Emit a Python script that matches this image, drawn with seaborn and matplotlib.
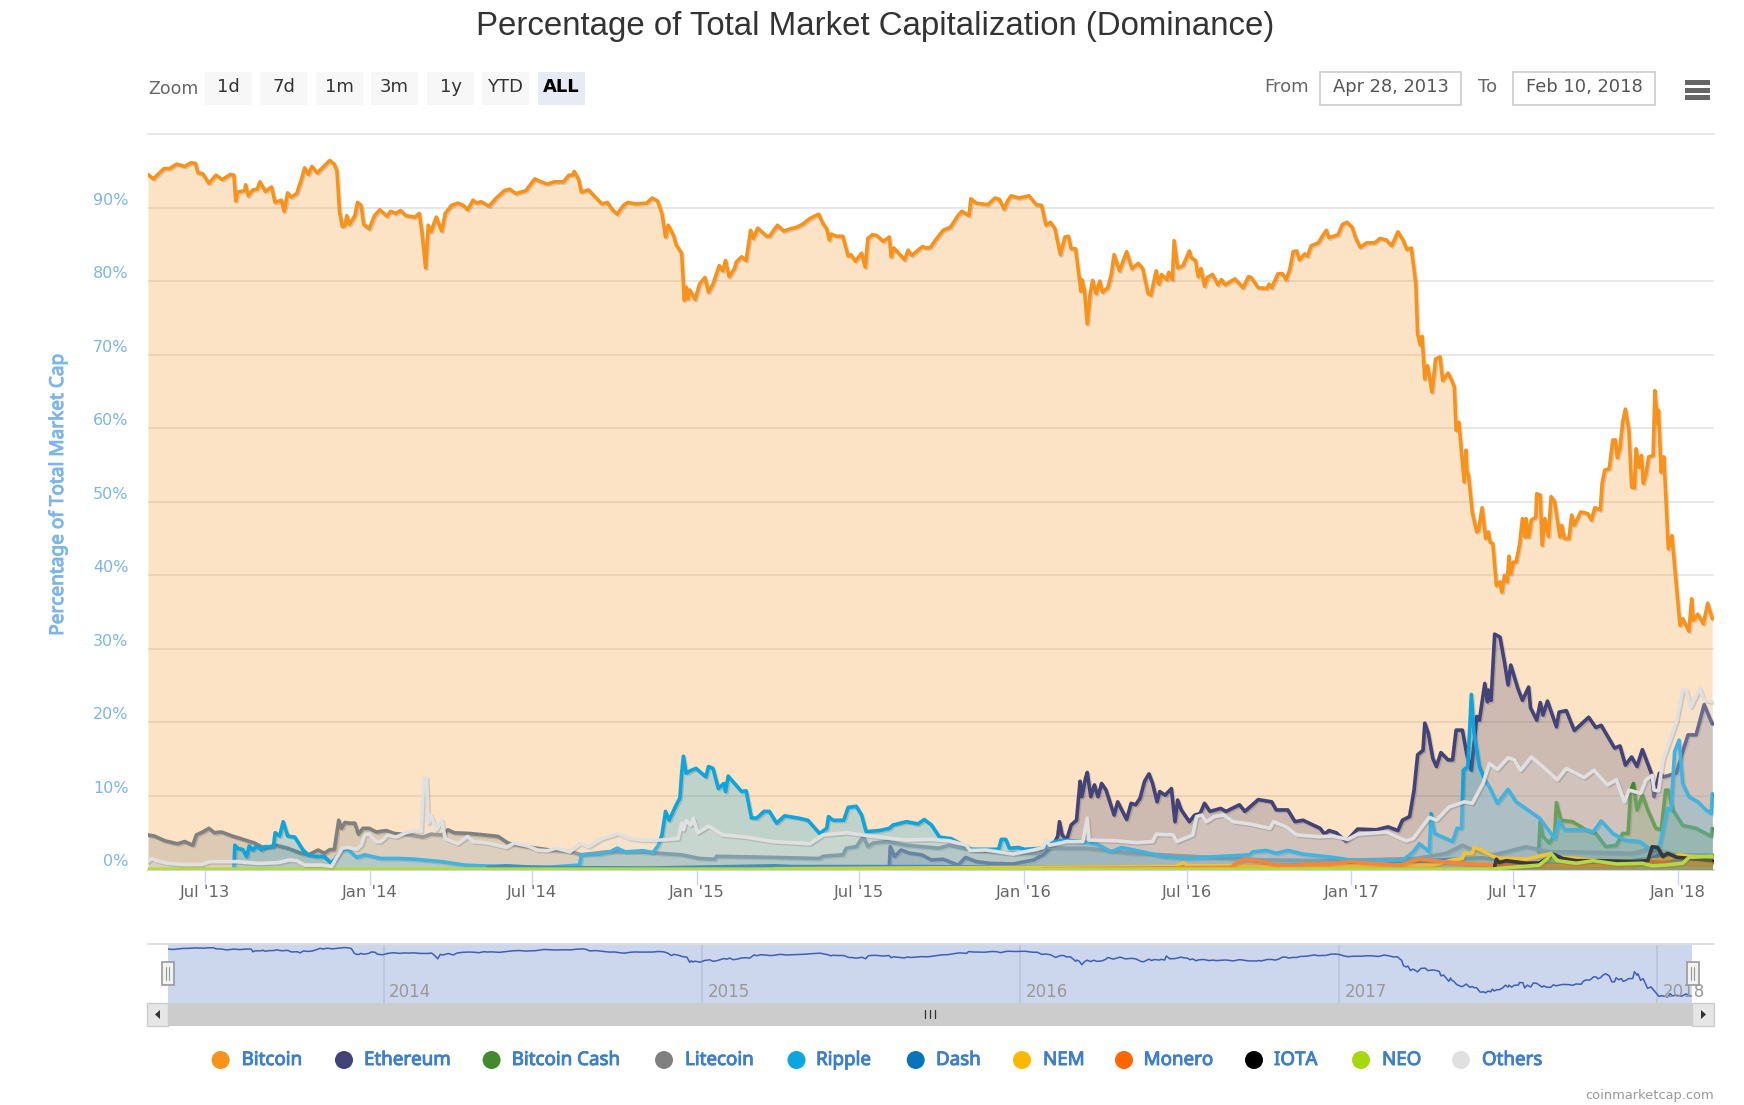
import pandas as pd
import seaborn as sns
import matplotlib
matplotlib.use('Agg')
import matplotlib.pyplot as plt
import matplotlib.patheffects as pe
from matplotlib.patches import Rectangle, Circle, Polygon

# all series: x = days after 2013-04-28, y = percent
btc_days = [0, 6, 11, 18, 24, 32, 41, 48, 53, 56, 61, 68, 76, 83, 92, 96, 98, 100, 108, 109, 112, 117, 122, 125, 131, 138, 142, 149, 152, 156,
            160, 166, 171, 175, 179, 183, 189, 194, 203, 208, 211, 214, 217, 220, 222, 225, 231, 234, 238, 241, 247, 253, 259, 267, 271, 277, 282, 288, 298, 303,
            306, 310, 313, 316, 322, 328, 332, 339, 346, 352, 357, 363, 367, 372, 381, 389, 398, 404, 411, 422, 432, 437, 446, 454, 464, 470, 474, 476, 481, 484,
            492, 499, 507, 513, 518, 524, 531, 536, 544, 557, 563, 569, 574, 578, 581, 587, 590, 596, 599, 601, 603, 605, 611, 616, 622, 626, 631, 638, 642, 645,
            649, 655, 657, 663, 668, 673, 676, 681, 691, 694, 703, 710, 717, 724, 732, 739, 749, 754, 758, 761, 763, 769, 776, 782, 785, 790, 797, 801, 804, 809,
            814, 821, 828, 830, 833, 839, 845, 849, 853, 860, 865, 869, 874, 879, 888, 896, 904, 909, 917, 919, 925, 938, 946, 951, 956, 960, 964, 973, 984, 992,
            998, 1003, 1008, 1013, 1019, 1024, 1028, 1031, 1036, 1042, 1043, 1046, 1049, 1052, 1055, 1059, 1063, 1066, 1072, 1076, 1079, 1085, 1093, 1099, 1106, 1111, 1117, 1120, 1126, 1129,
            1132, 1138, 1140, 1144, 1146, 1150, 1156, 1163, 1165, 1170, 1173, 1176, 1180, 1183, 1189, 1195, 1199, 1203, 1214, 1223, 1229, 1232, 1240, 1250, 1252, 1255, 1262, 1267, 1271, 1275,
            1279, 1283, 1286, 1292, 1295, 1299, 1307, 1311, 1316, 1319, 1329, 1334, 1339, 1345, 1349, 1354, 1361, 1370, 1376, 1383, 1389, 1396, 1402, 1406, 1411, 1416, 1418, 1421, 1423, 1426,
            1429, 1431, 1434, 1438, 1443, 1446, 1452, 1456, 1459, 1461, 1464, 1470, 1472, 1473, 1475, 1479, 1484, 1486, 1490, 1494, 1497, 1499, 1502, 1506, 1510, 1512, 1515, 1518, 1520, 1522,
            1525, 1528, 1532, 1535, 1538, 1539, 1542, 1545, 1550, 1551, 1555, 1557, 1560, 1564, 1567, 1571, 1577, 1579, 1582, 1587, 1590, 1593, 1600, 1608, 1612, 1616, 1622, 1624, 1627, 1632,
            1636, 1639, 1641, 1644, 1647, 1650, 1654, 1657, 1660, 1662, 1665, 1668, 1670, 1673, 1676, 1681, 1683, 1686, 1687, 1690, 1693, 1696, 1698, 1702, 1704, 1707, 1711, 1714, 1721, 1724,
            1726, 1731, 1737, 1742, 1747]
btc_vals = [94.5, 93.9, 94.5, 95.3, 95.3, 95.9, 95.6, 96.1, 96.0, 94.7, 94.6, 93.3, 94.4, 93.8, 94.5, 94.4, 90.9, 92.1, 92.3, 93.1, 91.6, 92.4, 92.5, 93.5, 92.2, 92.8, 90.7, 91.0, 89.5, 92.0,
            91.4, 91.9, 93.7, 95.4, 94.5, 95.6, 94.7, 95.3, 96.4, 95.9, 95.0, 89.4, 87.4, 87.6, 88.9, 87.7, 88.9, 90.7, 90.3, 87.7, 87.1, 88.9, 89.7, 88.8, 89.5, 89.2, 89.6, 88.9, 88.7, 89.2,
            86.7, 81.8, 87.6, 86.7, 88.7, 86.8, 89.2, 90.3, 90.6, 90.3, 89.7, 91.0, 90.6, 90.8, 90.2, 91.3, 92.3, 92.5, 91.9, 92.3, 93.9, 93.6, 93.2, 93.5, 93.5, 94.4, 94.4, 94.9, 93.8, 92.1,
            92.4, 91.5, 90.5, 90.7, 89.8, 89.1, 90.3, 90.7, 90.5, 90.6, 91.3, 90.9, 89.2, 86.0, 87.6, 86.2, 84.9, 83.8, 77.4, 79.2, 77.6, 78.8, 77.5, 79.6, 80.5, 78.5, 79.6, 82.1, 81.4, 82.8,
            80.6, 81.7, 82.6, 83.3, 82.8, 86.9, 85.8, 87.2, 86.1, 86.1, 87.6, 86.8, 87.1, 87.3, 87.8, 88.5, 89.1, 87.8, 87.1, 85.6, 86.4, 86.1, 86.1, 83.4, 83.6, 82.7, 83.8, 81.9, 85.8, 86.3,
            86.2, 85.4, 86.0, 83.3, 84.5, 83.7, 82.9, 84.2, 83.5, 84.2, 84.7, 84.5, 84.6, 85.5, 86.9, 87.3, 88.8, 89.5, 88.9, 91.2, 90.6, 90.4, 91.3, 91.1, 89.8, 90.9, 91.6, 91.3, 91.6, 90.4,
            90.3, 87.6, 88.0, 87.1, 83.6, 86.0, 86.1, 84.4, 84.4, 78.6, 80.2, 78.7, 74.2, 78.1, 80.1, 78.3, 80.0, 78.5, 79.1, 81.0, 83.6, 81.4, 84.0, 81.7, 82.4, 81.7, 78.3, 78.1, 81.4, 79.6,
            80.9, 80.2, 81.2, 80.2, 85.5, 81.8, 82.1, 84.1, 83.2, 82.8, 80.6, 81.7, 79.3, 80.5, 80.9, 79.5, 80.2, 79.5, 80.3, 79.1, 80.6, 80.5, 79.1, 79.0, 79.6, 79.1, 81.0, 81.0, 80.2, 81.5,
            84.0, 84.1, 82.9, 83.7, 83.4, 84.8, 85.2, 86.0, 86.9, 85.9, 86.3, 87.7, 88.0, 87.3, 85.8, 84.6, 85.2, 85.2, 85.8, 85.6, 84.8, 86.7, 85.5, 84.3, 84.5, 79.6, 72.8, 71.3, 72.5, 66.7,
            68.5, 67.2, 64.9, 69.4, 69.7, 66.5, 67.5, 66.5, 65.6, 59.7, 60.8, 52.7, 57.0, 54.3, 53.4, 48.6, 45.9, 46.1, 49.2, 45.0, 45.9, 44.5, 44.3, 38.6, 39.1, 37.7, 40.0, 39.1, 42.6, 40.2,
            41.8, 41.8, 44.3, 47.7, 45.2, 47.7, 45.2, 47.5, 47.9, 51.1, 50.9, 44.1, 47.7, 45.3, 50.7, 50.0, 45.2, 46.8, 45.0, 45.0, 48.2, 46.8, 48.6, 48.4, 47.5, 49.2, 48.9, 52.5, 54.3, 54.5,
            58.4, 58.4, 56.0, 57.4, 60.8, 62.6, 59.7, 52.0, 51.9, 57.2, 54.7, 56.3, 52.5, 53.8, 56.1, 56.3, 65.1, 60.6, 62.4, 54.0, 56.1, 48.8, 43.6, 45.4, 42.7, 38.6, 33.2, 34.1, 32.4, 36.8,
            33.9, 34.7, 33.4, 36.2, 34.1]

eth_days = [828, 829, 834, 841, 851, 864, 875, 888, 905, 913, 925, 940, 966, 989, 1000, 1010, 1016, 1018, 1021, 1026, 1031, 1037, 1041, 1043, 1047, 1049, 1053, 1057, 1061, 1065,
            1070, 1079, 1083, 1093, 1098, 1103, 1108, 1113, 1118, 1122, 1127, 1130, 1136, 1143, 1147, 1150, 1154, 1163, 1169, 1175, 1180, 1186, 1192, 1198, 1204, 1219, 1225, 1240, 1255, 1260,
            1273, 1281, 1290, 1309, 1314, 1319, 1327, 1338, 1351, 1372, 1385, 1396, 1401, 1409, 1414, 1418, 1424, 1426, 1430, 1435, 1439, 1444, 1452, 1457, 1461, 1468, 1473, 1478, 1484, 1487,
            1493, 1496, 1497, 1500, 1504, 1510, 1515, 1519, 1522, 1530, 1535, 1542, 1544, 1551, 1555, 1558, 1563, 1573, 1576, 1584, 1593, 1609, 1617, 1623, 1638, 1644, 1650, 1657, 1663, 1669,
            1679, 1682, 1688, 1693, 1707, 1714, 1720, 1729, 1738, 1747]
eth_vals = [0.6, 3.1, 1.75, 2.65, 2.2, 2.0, 1.3, 1.4, 0.6, 1.65, 1.07, 0.84, 0.75, 1.3, 2.0, 3.1, 4.5, 6.5, 4.7, 4.0, 6.05, 6.7, 12.0, 9.9, 12.4, 13.2, 9.9, 11.5, 9.9, 11.7,
            10.8, 7.4, 9.2, 6.8, 9.0, 8.8, 9.7, 12.0, 13.0, 11.7, 9.2, 10.6, 10.1, 11.0, 6.5, 9.45, 8.1, 6.5, 7.4, 7.6, 9.0, 7.9, 8.1, 8.3, 7.9, 8.8, 7.9, 9.5, 9.2, 8.1,
            8.1, 6.5, 6.7, 5.6, 4.8, 5.3, 5.0, 3.8, 5.5, 5.4, 5.8, 5.3, 6.7, 7.2, 10.8, 15.6, 16.2, 19.9, 18.5, 15.1, 14.0, 15.9, 14.9, 14.9, 18.95, 18.95, 15.6, 13.5, 20.8, 20.3,
            25.3, 22.8, 24.4, 23.0, 32.0, 31.6, 28.2, 25.1, 27.8, 24.6, 23.0, 24.8, 22.0, 20.3, 22.7, 21.0, 22.9, 19.4, 21.4, 21.6, 18.9, 20.7, 19.3, 19.6, 16.5, 16.8, 14.2, 15.3, 14.0, 16.3,
            13.1, 9.9, 13.1, 12.6, 13.1, 16.0, 18.3, 18.3, 22.4, 19.8]

bch_days = [1553, 1555, 1558, 1565, 1571, 1573, 1578, 1591, 1606, 1617, 1628, 1640, 1647, 1653, 1656, 1659, 1663, 1669, 1675, 1684, 1690, 1695, 1698, 1703, 1714, 1729, 1746, 1747]
bch_vals = [2.4, 6.5, 4.5, 3.6, 4.7, 9.1, 6.7, 6.5, 5.4, 4.9, 3.1, 3.3, 4.9, 4.9, 10.8, 11.7, 8.1, 10.1, 8.1, 5.6, 5.4, 10.8, 10.8, 8.1, 6.0, 5.6, 4.5, 5.6]

ltc_days = [0, 7, 19, 33, 41, 50, 54, 61, 68, 74, 82, 93, 106, 119, 130, 143, 156, 171, 179, 190, 197, 203, 208, 213, 216, 220, 225, 231, 235, 240,
            247, 255, 266, 275, 294, 307, 316, 328, 335, 342, 359, 376, 391, 402, 413, 428, 446, 473, 484, 512, 549, 572, 596, 616, 633, 635, 698, 750, 754, 776,
            780, 791, 799, 804, 810, 825, 847, 883, 895, 918, 966, 996, 1000, 1022, 1048, 1070, 1097, 1134, 1171, 1208, 1245, 1319, 1416, 1450, 1468, 1480, 1502, 1517, 1539, 1565,
            1595, 1658, 1680, 1707, 1747]
ltc_vals = [4.7, 4.55, 3.9, 3.5, 3.8, 3.3, 4.7, 5.1, 5.6, 5.0, 5.1, 4.6, 4.1, 3.6, 2.9, 3.3, 2.9, 2.2, 2.0, 2.65, 2.2, 2.7, 2.7, 6.7, 5.6, 6.4, 6.3, 6.3, 4.8, 5.6,
            5.6, 5.1, 5.3, 4.9, 4.7, 4.4, 4.8, 4.7, 5.4, 5.0, 4.9, 4.7, 4.5, 3.6, 3.3, 3.0, 2.7, 2.4, 2.0, 2.4, 2.4, 2.2, 2.0, 1.5, 1.4, 1.8, 1.65, 1.5, 1.8, 2.0,
            2.9, 3.1, 4.5, 3.1, 3.6, 3.8, 3.3, 2.9, 3.3, 2.65, 2.2, 2.2, 3.0, 2.9, 2.9, 2.6, 2.2, 2.0, 1.75, 1.5, 1.3, 1.2, 1.5, 2.2, 3.3, 2.65, 2.0, 2.4, 3.1, 2.4,
            2.4, 2.2, 2.9, 2.0, 2.0]

xrp_days = [96, 97, 100, 106, 110, 113, 117, 121, 127, 130, 140, 142, 147, 151, 156, 164, 173, 179, 186, 197, 204, 208, 216, 223, 233, 242, 249, 260, 279, 298,
            328, 354, 372, 409, 446, 482, 484, 505, 516, 524, 533, 553, 564, 570, 574, 578, 582, 590, 594, 596, 598, 601, 607, 612, 623, 626, 631, 637, 643, 645,
            648, 655, 663, 668, 674, 680, 688, 694, 702, 711, 726, 737, 750, 758, 760, 765, 777, 782, 791, 797, 802, 817, 828, 832, 847, 860, 867, 875, 884, 897,
            912, 920, 950, 953, 958, 962, 972, 979, 1000, 1013, 1022, 1044, 1059, 1076, 1087, 1111, 1134, 1163, 1193, 1230, 1234, 1249, 1260, 1273, 1290, 1323, 1342, 1401, 1413, 1420,
            1431, 1433, 1437, 1457, 1462, 1467, 1469, 1474, 1478, 1481, 1487, 1493, 1498, 1507, 1519, 1528, 1541, 1554, 1571, 1576, 1582, 1606, 1614, 1623, 1636, 1649, 1666, 1679, 1688, 1692,
            1697, 1701, 1705, 1710, 1714, 1721, 1731, 1740, 1746, 1747]
xrp_vals = [0.4, 3.3, 2.9, 2.7, 1.75, 3.2, 2.65, 3.2, 2.65, 3.1, 3.1, 5.0, 4.55, 6.5, 4.55, 4.4, 2.65, 2.0, 1.8, 1.75, 0.93, 1.3, 2.6, 2.75, 1.65, 2.0, 1.8, 1.5, 1.5, 1.4,
            1.07, 0.6, 0.5, 0.4, 0.3, 0.6, 2.0, 2.1, 2.4, 2.9, 2.4, 2.56, 2.3, 3.3, 4.7, 7.9, 6.7, 8.8, 9.7, 13.1, 15.4, 13.1, 13.5, 13.75, 12.6, 14.0, 13.75, 11.0, 11.7, 10.6,
            12.7, 11.7, 10.6, 10.7, 7.0, 7.0, 7.9, 7.9, 6.3, 7.3, 7.0, 6.7, 4.9, 5.6, 7.2, 6.7, 6.7, 8.45, 8.6, 7.4, 5.15, 5.3, 5.6, 6.05, 6.5, 6.2, 6.8, 6.05, 4.4, 4.2,
            3.2, 2.75, 2.75, 4.1, 4.1, 2.9, 3.0, 2.75, 2.9, 3.8, 4.0, 3.8, 3.5, 2.4, 3.0, 2.4, 1.75, 1.5, 1.75, 2.0, 2.4, 2.6, 2.2, 2.6, 2.1, 1.65, 1.3, 1.2, 2.4, 3.5,
            2.4, 7.6, 4.9, 3.8, 5.6, 5.6, 13.5, 14.0, 23.8, 18.5, 14.0, 12.2, 11.25, 9.0, 10.9, 9.2, 8.1, 7.0, 4.2, 6.7, 5.4, 5.4, 5.1, 6.6, 4.9, 4.0, 3.8, 2.65, 3.1, 5.4,
            8.3, 8.1, 16.0, 17.6, 11.7, 9.9, 9.2, 8.1, 7.6, 10.3]

dash_days = [380, 400, 430, 470, 560, 700, 720, 860, 1000, 1100, 1180, 1300, 1400, 1430, 1460, 1490, 1540, 1600, 1650, 1680, 1690, 1700, 1747]
dash_vals = [0.3, 0.5, 0.3, 0.25, 0.2, 0.5, 0.4, 0.4, 0.3, 0.3, 0.4, 0.6, 0.8, 1.2, 1.4, 1.6, 0.8, 0.8, 1.1, 1.5, 2.2, 1.0, 1.1]

nem_days = [700, 1147, 1156, 1162, 1208, 1286, 1398, 1435, 1457, 1468, 1470, 1479, 1481, 1489, 1502, 1509, 1524, 1539, 1554, 1565, 1576, 1595, 1621, 1658, 1680, 1699, 1710, 1721, 1747]
nem_vals = [0.1, 0.4, 0.9, 0.5, 0.5, 0.4, 0.6, 0.6, 1.3, 1.5, 2.2, 2.2, 3.0, 2.65, 1.8, 1.5, 1.5, 1.4, 1.8, 2.1, 1.65, 1.5, 1.2, 1.1, 1.3, 1.5, 2.0, 1.8, 1.65]

xmr_days = [1000, 1210, 1215, 1225, 1245, 1260, 1283, 1294, 1319, 1342, 1398, 1420, 1435, 1472, 1505, 1584, 1658, 1680, 1695, 1747]
xmr_vals = [0.1, 0.3, 0.84, 1.4, 1.07, 0.6, 0.5, 0.75, 0.75, 1.07, 0.6, 1.4, 1.2, 0.8, 0.6, 0.5, 0.6, 1.07, 0.9, 0.85]

iota_days = [1504, 1506, 1509, 1517, 1539, 1554, 1565, 1569, 1580, 1595, 1621, 1658, 1675, 1680, 1686, 1692, 1697, 1708, 1723, 1747]
iota_vals = [0.4, 1.4, 0.95, 1.2, 0.85, 0.9, 1.65, 2.1, 1.5, 1.2, 1.2, 1.1, 1.2, 3.1, 3.0, 1.75, 2.2, 1.65, 1.5, 1.2]

neo_days = [0, 1500, 1509, 1554, 1563, 1567, 1574, 1595, 1614, 1640, 1669, 1680, 1695, 1714, 1721, 1747]
neo_vals = [0.05, 0.05, 0.15, 0.6, 1.5, 2.2, 1.2, 0.85, 1.2, 0.75, 0.85, 0.5, 0.6, 0.85, 1.65, 1.8]

oth_days = [0, 4, 11, 22, 37, 60, 69, 82, 99, 123, 145, 158, 166, 175, 194, 205, 210, 217, 223, 233, 238, 242, 247, 255, 260, 268, 277, 288, 298, 305,
            308, 311, 313, 316, 322, 328, 332, 346, 357, 363, 380, 400, 409, 424, 435, 446, 456, 471, 483, 492, 507, 525, 538, 553, 572, 592, 596, 598, 601, 606,
            609, 614, 626, 642, 668, 698, 739, 754, 780, 810, 847, 873, 895, 914, 918, 936, 966, 989, 1000, 1003, 1007, 1026, 1044, 1049, 1051, 1082, 1104, 1122, 1126, 1145,
            1149, 1167, 1171, 1177, 1182, 1191, 1201, 1212, 1230, 1253, 1257, 1271, 1283, 1308, 1323, 1340, 1351, 1383, 1405, 1413, 1431, 1439, 1453, 1470, 1479, 1491, 1498, 1507, 1519, 1526,
            1533, 1545, 1560, 1574, 1584, 1604, 1615, 1630, 1640, 1649, 1654, 1667, 1673, 1680, 1682, 1687, 1692, 1701, 1707, 1714, 1718, 1723, 1733, 1738, 1747]
oth_vals = [1.07, 1.5, 1.15, 0.84, 0.7, 0.7, 1.07, 1.07, 1.07, 0.84, 0.93, 1.3, 1.2, 0.6, 0.6, 0.4, 1.5, 2.9, 3.0, 2.75, 3.3, 4.7, 4.8, 3.8, 3.8, 4.7, 4.4, 5.0, 5.3, 5.15,
            12.4, 12.4, 6.3, 7.4, 5.4, 6.7, 4.2, 3.5, 4.5, 3.8, 3.6, 3.0, 3.6, 3.2, 2.65, 2.55, 2.9, 2.4, 3.56, 3.1, 4.2, 4.9, 4.2, 4.0, 4.0, 4.2, 6.3, 5.4, 6.7, 6.05,
            6.96, 5.0, 5.9, 4.7, 4.4, 3.8, 3.5, 4.7, 5.0, 4.5, 4.0, 4.1, 3.9, 3.3, 2.6, 2.65, 2.1, 2.65, 3.0, 4.0, 3.3, 3.8, 3.8, 7.0, 4.0, 3.9, 3.65, 3.8, 4.8, 4.7,
            3.8, 4.7, 7.2, 7.4, 6.5, 7.2, 7.4, 6.5, 6.2, 5.6, 6.5, 5.8, 4.7, 4.46, 4.55, 4.1, 4.8, 5.1, 3.9, 4.2, 7.1, 6.7, 8.5, 9.2, 9.0, 11.7, 14.4, 13.6, 15.2, 14.9,
            13.5, 15.3, 13.75, 12.2, 13.75, 12.5, 13.5, 11.5, 12.2, 9.2, 10.8, 10.35, 12.2, 12.8, 10.8, 10.7, 14.9, 18.0, 20.1, 24.4, 24.4, 22.1, 24.6, 23.0, 22.8]

names = ['Bitcoin', 'Ethereum', 'Bitcoin Cash', 'Litecoin', 'Ripple', 'Dash', 'NEM', 'Monero', 'IOTA', 'NEO', 'Others']
colors = ['#f7931a', '#434377', '#428a2d', '#808080', '#0da5de', '#0a74b9', '#fbb800', '#ff6600', '#000000', '#a6d80f', '#e0e0e0']
all_days = [btc_days, eth_days, bch_days, ltc_days, xrp_days, dash_days, nem_days, xmr_days, iota_days, neo_days, oth_days]
all_vals = [btc_vals, eth_vals, bch_vals, ltc_vals, xrp_vals, dash_vals, nem_vals, xmr_vals, iota_vals, neo_vals, oth_vals]

y_ticks = [0, 10, 20, 30, 40, 50, 60, 70, 80, 90, 100]
x_ticks = ['2013-07-01', '2014-01-01', '2014-07-01', '2015-01-01', '2015-07-01', '2016-01-01', '2016-07-01', '2017-01-01', '2017-07-01', '2018-01-01']
x_labels = ["Jul '13", "Jan '14", "Jul '14", "Jan '15", "Jul '15", "Jan '16", "Jul '16", "Jan '17", "Jul '17", "Jan '18"]
nav_years = ['2014', '2015', '2016', '2017', '2018']
zoom_labels = ['1d', '7d', '1m', '3m', '1y', 'YTD', 'ALL']

start = pd.Timestamp('2013-04-28')
end = pd.Timestamp('2018-02-10')


def to_dates(days):
    return start + pd.to_timedelta(days, unit='D')


W, H = 1744, 1105


def px_axes(left, top, right, bottom):
    return fig.add_axes([left / W, 1 - bottom / H, (right - left) / W, (bottom - top) / H])


sns.set_theme(style='white')
plt.rcParams['font.family'] = ['DejaVu Sans']
fig = plt.figure(figsize=(W / 100, H / 100), dpi=100)

# main chart, each series stacked over the one before it
ax = px_axes(148, 134, 1714, 869.5)
shadow = [pe.SimpleLineShadow(offset=(1, -1), shadow_color='k', alpha=0.15), pe.Normal()]
for i, (days, vals, col) in enumerate(zip(all_days, all_vals, colors)):
    dates = to_dates(days)
    ax.fill_between(dates, vals, 0, color=col, alpha=0.25, lw=0, zorder=2 + 2 * i)
    sns.lineplot(x=dates, y=vals, color=col, lw=2.6, ax=ax, estimator=None, sort=False,
                 legend=False, zorder=3 + 2 * i, path_effects=shadow)

ax.set_xlim(start, end)
ax.set_ylim(0, 100)
ax.set_xlabel('')
ax.set_ylabel('')
ax.set_yticks(y_ticks[:-1])
ax.set_yticklabels([f'{v}%' for v in y_ticks[:-1]], color='#7cb5ec', fontsize=11.5, va='bottom')
ax.set_xticks(pd.to_datetime(x_ticks))
ax.set_xticklabels(x_labels, color='#666666', fontsize=11.8)
ax.tick_params(axis='x', length=11, width=1, color='#ccd6eb', pad=0.5, bottom=True)
ax.tick_params(axis='y', length=0, pad=14)
ax.grid(axis='y', color='#e6e6e6', lw=1.3, zorder=1)
ax.grid(axis='x', visible=False)
ax.set_axisbelow(True)
for side in ['left', 'right']:
    ax.spines[side].set_visible(False)
ax.spines['top'].set_color('#e6e6e6')
ax.spines['top'].set_linewidth(1.3)
ax.spines['bottom'].set_color('#ccd6eb')
ax.spines['bottom'].set_linewidth(1.4)

# navigator
nav = px_axes(167.5, 944, 1692, 1003)
nav.set_facecolor('#ccd6ed')
nav_dates = to_dates(btc_days)
sns.lineplot(x=nav_dates, y=btc_vals, color='#3f5fb5', lw=1.1, ax=nav, estimator=None, sort=False, legend=False, zorder=3)
nav.set_xlim(start, end)
nav.set_ylim(24.6, 101)
nav.set_xlabel('')
nav.set_ylabel('')
nav.set_yticks([])
nav.set_xticks(pd.to_datetime([y + '-01-01' for y in nav_years]))
nav.set_xticklabels([])
nav.grid(axis='x', color='#b9c3dc', lw=1.2, zorder=1)
nav.grid(axis='y', visible=False)
for side in nav.spines:
    nav.spines[side].set_visible(False)
for y in nav_years:
    nav.annotate(y, (pd.Timestamp(y + '-01-01'), 0), xycoords=('data', 'axes fraction'), xytext=(4, 4.5),
                 textcoords='offset points', fontsize=12, color='#999999', zorder=6, annotation_clip=False)

# page furniture, in pixel coordinates
ui = fig.add_axes([0, 0, 1, 1], zorder=5)
ui.set_xlim(0, W)
ui.set_ylim(H, 0)
ui.axis('off')
ui.patch.set_alpha(0)

fig.text(875 / W, 1 - 26 / H, 'Percentage of Total Market Capitalization (Dominance)', ha='center', va='center',
         family='Liberation Sans', fontsize=23.8, color='#333333')
# no bold Noto here, a thin stroke gives the weight
fig.text(58 / W, 1 - 495 / H, 'Percentage of Total Market Cap', rotation=90, ha='center', va='center',
         family='Noto Sans', fontsize=13.7, color='#7cb5ec',
         path_effects=[pe.withStroke(linewidth=0.7, foreground='#7cb5ec')])

ui.text(148, 89, 'Zoom', ha='left', va='center', fontsize=12.5, color='#666666')
button_left = [205, 260, 316, 371, 427, 482, 538]
for left, lab in zip(button_left, zoom_labels):
    active = lab == 'ALL'
    ui.add_patch(Rectangle((left, 72), 47, 33, fc='#e6ebf5' if active else '#f7f7f7', ec='none'))
    ui.text(left + 23.5, 87, lab, ha='center', va='center', fontsize=13,
            fontweight='bold' if active else 'normal', color='#000000' if active else '#333333')

ui.text(1264, 87, 'From', ha='left', va='center', fontsize=13, color='#666666')
ui.text(1478, 87, 'To', ha='left', va='center', fontsize=13, color='#666666')
for left, right, lab in [(1320, 1461, 'Apr 28, 2013'), (1513, 1655, 'Feb 10, 2018')]:
    ui.add_patch(Rectangle((left, 72), right - left, 33, fc='white', ec='#cccccc', lw=1.2))
    ui.text((left + right) / 2, 87, lab, ha='center', va='center', fontsize=12.9, color='#555555')
for top in [80, 88, 95]:
    ui.add_patch(Rectangle((1685, top), 25, 5, fc='#666666', ec='none'))

# navigator outline, handles and scrollbar
ui.plot([148, 1714], [944, 944], color='#dddddd', lw=1.4)
ui.add_patch(Rectangle((148, 1003), 1566, 22.5, fc='#cccccc', ec='none'))
ui.add_patch(Rectangle((147, 1003), 20.5, 22.5, fc='#e6e6e6', ec='#cccccc', lw=1))
ui.add_patch(Rectangle((1692, 1003), 22, 22.5, fc='#e6e6e6', ec='#cccccc', lw=1))
ui.add_patch(Polygon([(160, 1010), (160, 1019), (155, 1014.5)], fc='#333333', ec='none'))
ui.add_patch(Polygon([(1701, 1010), (1701, 1019), (1706, 1014.5)], fc='#333333', ec='none'))
for gx in [925, 930, 935]:
    ui.plot([gx, gx], [1010, 1018], color='#333333', lw=0.9)
for hx in [167.5, 1692.5]:
    ui.add_patch(Rectangle((hx - 6, 962), 12, 23, fc='#f2f2f2', ec='#999999', lw=1.2, zorder=7))
    for gx in [hx - 1.5, hx + 1.5]:
        ui.plot([gx, gx], [967, 980], color='#999999', lw=0.8, zorder=8)

# legend
legend_dot = [220.6, 344, 491.6, 664, 796.5, 915.7, 1022, 1124, 1254, 1361, 1461]
legend_txt = [241.6, 364, 511.7, 685, 816, 936, 1043, 1143.6, 1274, 1382, 1482]
for dx, tx, name, col in zip(legend_dot, legend_txt, names, colors):
    ui.add_patch(Circle((dx, 1060), 9, fc=col, ec='none'))
    ui.text(tx, 1060, name, ha='left', va='center', family='Noto Sans', fontsize=13.5, color='#3f7fc8',
            path_effects=[pe.withStroke(linewidth=0.7, foreground='#3f7fc8')])

ui.text(1714, 1095, 'coinmarketcap.com', ha='right', va='center', fontsize=9.4, color='#999999')

fig.savefig('out.png', dpi=100)
